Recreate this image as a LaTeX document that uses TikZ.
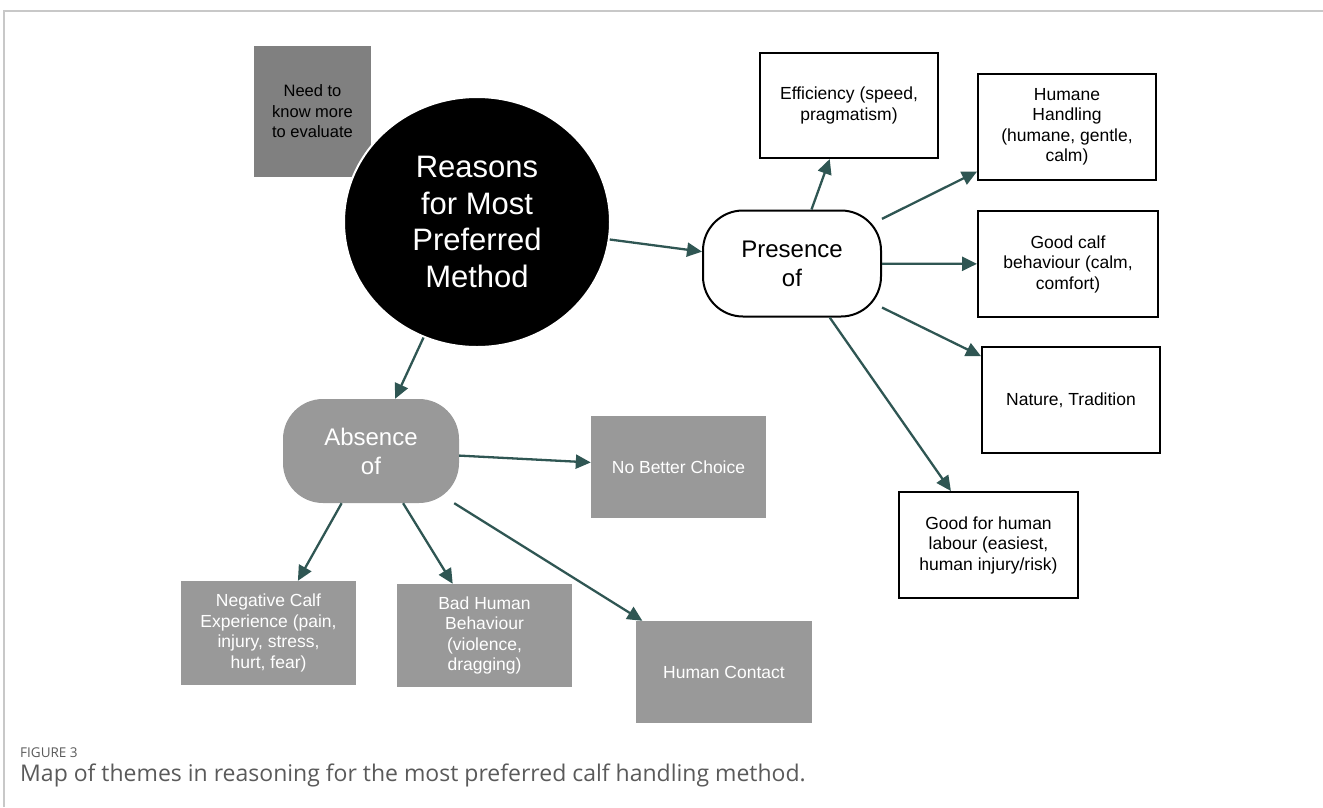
\documentclass[tikz,border=0pt]{standalone}
\usepackage{fontspec}
\setmainfont{Liberation Sans}
\newfontfamily\capfont{Open Sans}
\usetikzlibrary{shapes.geometric,arrows.meta}
\definecolor{arrowc}{HTML}{2F5653}
\definecolor{boxgray}{HTML}{999999}
\definecolor{needgray}{HTML}{808080}
\definecolor{framegray}{HTML}{C8C8C8}
\definecolor{capgray}{HTML}{5A5A5A}
\tikzset{
  txt/.style={align=center, font=\fontsize{17.5}{20.5}\selectfont},
  whitebox/.style={txt, draw=black, line width=2pt, fill=white, minimum width=178pt, minimum height=106pt, inner sep=0pt},
  graybox/.style={txt, fill=boxgray, text=white, minimum width=175pt, minimum height=103pt, inner sep=0pt},
  roundbox/.style={rounded corners=40pt, minimum width=178pt, minimum height=106pt, inner sep=0pt, align=center, font=\fontsize{24}{29}\selectfont},
  arr/.style={-{Triangle[length=15pt,width=14pt]}, draw=arrowc, line width=2.3pt},
}
\begin{document}
\begin{tikzpicture}[x=1pt, y=-1pt]
    \useasboundingbox (0,0) rectangle (1323,807);
    % frame
    \draw[framegray, line width=1.5pt] (4,807) -- (4,11) -- (1323,11);
    % centre
    \node[align=center, font=\fontsize{16.5}{20.5}\selectfont, fill=needgray, minimum width=117pt, minimum height=131pt, inner sep=0pt] (need) at (312.5,111.5) {Need to\\know more\\to evaluate};
    \node[ellipse, fill=black, draw=white, line width=2pt, minimum width=266pt, minimum height=250pt, inner sep=0pt,
          text=white, align=center, font=\fontsize{31}{36.7}\selectfont] (reasons) at (477,222) {Reasons\\for Most\\Preferred\\Method};
    \node[roundbox, draw=black, line width=2pt, fill=white] (presence) at (792,263.5) {Presence\\of};
    \node[roundbox, fill=boxgray, text=white, minimum width=176pt, minimum height=104pt] (absence) at (371,451) {Absence\\of};
    % presence side
    \node[whitebox, minimum height=105pt] (eff) at (849,105.5) {Efficiency (speed,\\pragmatism)};
    \node[whitebox] (humane) at (1067,127) {Humane\\Handling\\(humane, gentle,\\calm)};
    \node[whitebox, minimum width=180pt] (calf) at (1068,264) {Good calf\\behaviour (calm,\\comfort)};
    \node[whitebox] (nature) at (1071,400) {Nature, Tradition};
    \node[whitebox, minimum width=179pt] (labour) at (988.5,545) {Good for human\\labour (easiest,\\human injury/risk)};
    % absence side
    \node[graybox, minimum height=102pt] (nobetter) at (678.5,467) {No Better Choice};
    \node[graybox, minimum height=104pt] (neg) at (268.5,633) {Negative Calf\\Experience (pain,\\injury, stress,\\hurt, fear)};
    \node[graybox] (badhuman) at (484.5,635.5) {Bad Human\\Behaviour\\(violence,\\dragging)};
    \node[graybox, minimum width=176pt, minimum height=102pt] (contact) at (724,672) {Human Contact};
    % arrows
    \draw[arr] (reasons) -- (presence);
    \draw[arr] (reasons) -- (absence);
    \draw[arr] (presence) -- (eff);
    \draw[arr] (presence) -- (humane);
    \draw[arr] (presence) -- (calf);
    \draw[arr] (presence) -- (nature);
    \draw[arr] (presence) -- (labour);
    \draw[arr] (absence) -- (nobetter);
    \draw[arr] (absence) -- (neg);
    \draw[arr] (absence) -- (badhuman);
    \draw[arr] (absence) -- (contact);
    % caption
    \node[anchor=base west, inner sep=0pt, text=capgray, font=\capfont\fontsize{13.5}{13.5}\selectfont] (fig) at (20,757) {FIGURE 3};
    \node[anchor=base west, inner sep=0pt, text=capgray, font=\capfont\fontsize{23}{23}\selectfont] (cap) at (20,781) {Map of themes in reasoning for the most preferred calf handling method.};
\end{tikzpicture}
\end{document}
